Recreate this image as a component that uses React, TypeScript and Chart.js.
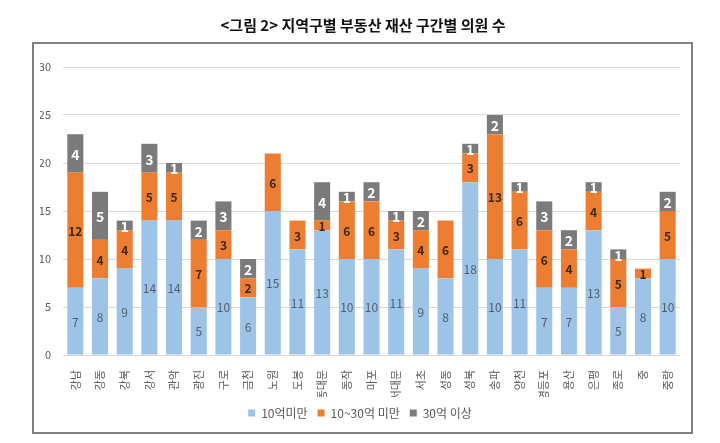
import React, { useEffect, useRef } from "react";
import { Chart, registerables } from "chart.js";

Chart.register(...registerables);

const titleText = "<그림 2> 지역구별 부동산 재산 구간별 의원 수";
const categories = [
  "강남", "강동", "강북", "강서", "관악", "광진", "구로", "금천", "노원", "도봉",
  "동대문", "동작", "마포", "서대문", "서초", "성동", "성북", "송파", "양천", "영등포",
  "용산", "은평", "종로", "중", "중랑",
];
const seriesNames = ["10억미만", "10~30억 미만", "30억 이상"];
const under10 = [7, 8, 9, 14, 14, 5, 10, 6, 15, 11, 13, 10, 10, 11, 9, 8, 18, 10, 11, 7, 7, 13, 5, 8, 10];
const from10to30 = [12, 4, 4, 5, 5, 7, 3, 2, 6, 3, 1, 6, 6, 3, 4, 6, 3, 13, 6, 6, 4, 4, 5, 1, 5];
const over30 = [4, 5, 1, 3, 1, 2, 3, 2, 0, 0, 4, 1, 2, 1, 2, 0, 1, 2, 1, 3, 2, 1, 1, 0, 2];
const yMax = 30;
const yStep = 5;

const FONT = "'Noto Sans CJK KR', 'Noto Sans', sans-serif";
const colors = ["#9DC3E6", "#ED7D31", "#7B7B7B"];
const labelStyles = [
  { color: "#4F5F70", weight: "normal", size: 12 },
  { color: "#3A2A1E", weight: "600", size: 12 },
  { color: "#FFFFFF", weight: "bold", size: 14 },
];

const framePlugin = {
  id: "frameAndTitle",
  beforeDraw(chart: any) {
    const ctx = chart.ctx;
    ctx.save();
    ctx.fillStyle = "#ffffff";
    ctx.fillRect(0, 0, chart.width, chart.height);
    ctx.strokeStyle = "#7F7F7F";
    ctx.lineWidth = 2;
    ctx.strokeRect(33, 43, 659, 390);
    ctx.fillStyle = "#111111";
    ctx.font = `bold 15px ${FONT}`;
    ctx.textAlign = "center";
    ctx.textBaseline = "middle";
    ctx.fillText(titleText, 363, 25);
    ctx.restore();
  },
};

const dataLabelPlugin = {
  id: "segLabels",
  afterDatasetsDraw(chart: any) {
    const ctx = chart.ctx;
    ctx.save();
    ctx.textAlign = "center";
    ctx.textBaseline = "middle";
    chart.data.datasets.forEach((ds: any, di: number) => {
      const meta = chart.getDatasetMeta(di);
      const st = labelStyles[di];
      ctx.fillStyle = st.color;
      ctx.font = `${st.weight} ${st.size}px ${FONT}`;
      meta.data.forEach((el: any, i: number) => {
        const v = ds.data[i];
        if (!v) return;
        const y = (el.y + el.base) / 2;
        ctx.fillText(String(v), el.x, y + 1);
      });
    });
    ctx.restore();
  },
};

export default function App() {
  const ref = useRef<HTMLCanvasElement | null>(null);
  useEffect(() => {
    if (!ref.current) return;
    const series = [under10, from10to30, over30];
    const chart = new Chart(ref.current, {
      type: "bar",
      data: {
        labels: categories,
        datasets: series.map((d, i) => ({
          label: seriesNames[i],
          data: d,
          backgroundColor: colors[i],
          borderWidth: 0,
          categoryPercentage: 1,
          barPercentage: 0.65,
        })),
      },
      options: {
        animation: false,
        responsive: false,
        devicePixelRatio: 1,
        layout: { padding: { left: 40, right: 40, top: 67, bottom: 14 } },
        plugins: {
          legend: {
            position: "bottom",
            labels: {
              boxWidth: 7,
              boxHeight: 7,
              padding: 10,
              color: "#595959",
              font: { family: FONT, size: 12 },
            },
          },
          tooltip: { enabled: false },
          title: { display: false },
        },
        scales: {
          x: {
            stacked: true,
            grid: { display: false },
            border: { display: false },
            ticks: {
              maxRotation: 90,
              minRotation: 90,
              autoSkip: false,
              padding: 7,
              color: "#595959",
              font: { family: FONT, size: 11 },
            },
            afterFit(scale: any) {
              scale.height = 42;
            },
          },
          y: {
            stacked: true,
            min: 0,
            max: yMax,
            ticks: {
              stepSize: yStep,
              padding: 12,
              color: "#595959",
              font: { family: FONT, size: 11 },
            },
            grid: { color: "#D9D9D9", lineWidth: 1, drawTicks: false },
            border: { display: false },
            afterFit(scale: any) {
              scale.width = 23;
            },
          },
        },
      },
      plugins: [framePlugin, dataLabelPlugin],
    } as any);
    return () => chart.destroy();
  }, []);
  return (
    <div style={{ position: "fixed", left: 0, top: 0, width: 720, height: 443, background: "#fff" }}>
      <canvas ref={ref} width={720} height={443} />
    </div>
  );
}
